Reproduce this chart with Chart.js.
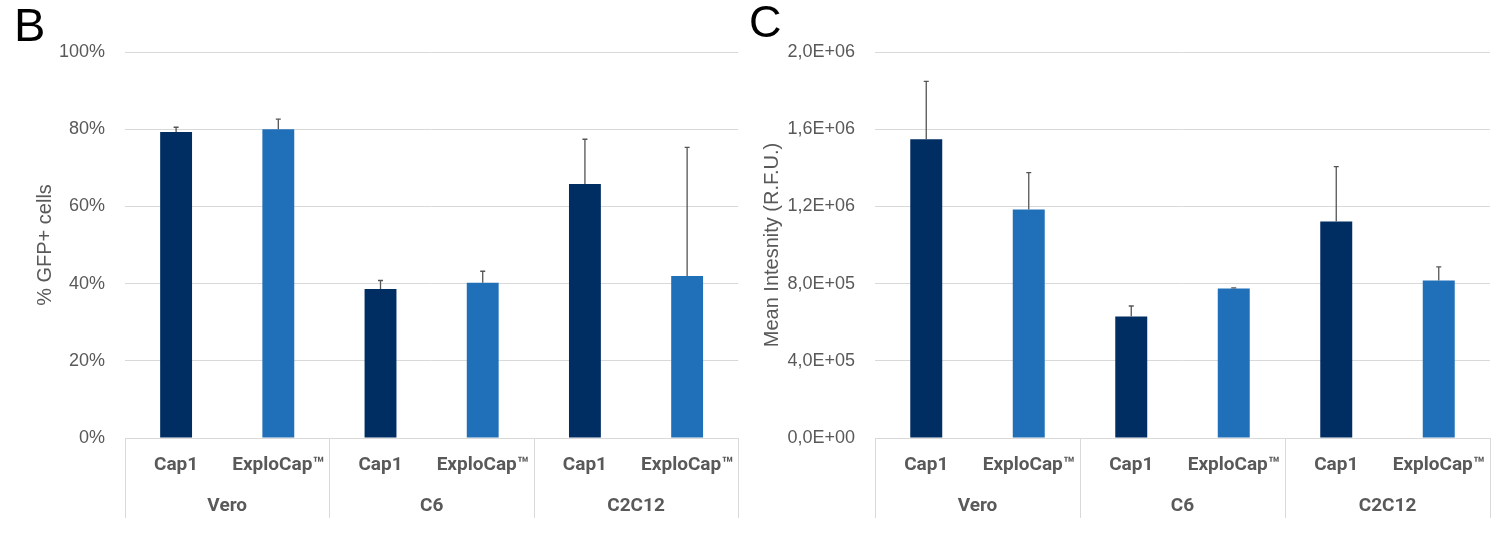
<!DOCTYPE html>
<html>
<head>
<meta charset="utf-8">
<script src="https://cdn.jsdelivr.net/npm/chart.js@4/dist/chart.umd.min.js"></script>
<style>
  html, body { margin: 0; padding: 0; background: #ffffff; }
  body { width: 1507px; height: 542px; position: relative; overflow: hidden; }
  .panel { position: absolute; top: 0; }
  .letter { position: absolute; font-family: "Liberation Sans", Arial, sans-serif; color: #000; line-height: 47px; font-size: 47px; }
</style>
</head>
<body>
<div class="panel" style="left:0px;width:750px;height:542px;"><canvas id="chartB" width="750" height="542"></canvas></div>
<div class="panel" style="left:750px;width:757px;height:542px;"><canvas id="chartC" width="757" height="542"></canvas></div>
<div class="letter" style="left:14px;top:1px;">B</div>
<div class="letter" style="left:749px;top:-2px;font-size:45px;">C</div>
<script>
// ---- data ----
const groups = ['Vero', 'C6', 'C2C12'];
const subLabels = ['Cap1', 'ExploCap™'];

const pctCap1 = [79.3, 38.6, 65.8];
const pctCap1Err = [1.2, 2.2, 11.6];
const pctExplo = [80.0, 40.2, 42.0];
const pctExploErr = [2.6, 3.0, 33.3];

const intCap1 = [1548000, 629000, 1122000];
const intCap1Err = [300000, 55000, 284000];
const intExplo = [1184000, 774000, 816000];
const intExploErr = [191000, 4000, 71000];

const pctTicks = ['0%', '20%', '40%', '60%', '80%', '100%'];
const intTicks = ['0,0E+00', '4,0E+05', '8,0E+05', '1,2E+06', '1,6E+06', '2,0E+06'];

// ---- styles ----
const NAVY = '#002E63';
const BLUE = '#2070B9';
const GRID = '#D9D9D9';
const TXT = '#595959';

function interleave(a, b) {
  const out = [];
  for (let i = 0; i < a.length; i++) { out.push(a[i], b[i]); }
  return out;
}
const xLabels = [];
groups.forEach(() => subLabels.forEach(s => xLabels.push(s)));
const barColors = [];
groups.forEach(() => { barColors.push(NAVY, BLUE); });

const errorBarPlugin = {
  id: 'errorBars',
  afterDatasetsDraw(chart) {
    const meta = chart.getDatasetMeta(0);
    const ds = chart.data.datasets[0];
    const y = chart.scales.y;
    const ctx = chart.ctx;
    ctx.save();
    ctx.strokeStyle = '#555555';
    ctx.lineWidth = 1.3;
    meta.data.forEach((bar, i) => {
      const v = ds.data[i];
      const e = ds.errors[i];
      const yTop = y.getPixelForValue(v + e);
      const yBase = y.getPixelForValue(v);
      ctx.beginPath();
      ctx.moveTo(bar.x, yBase);
      ctx.lineTo(bar.x, yTop);
      ctx.moveTo(bar.x - 2.5, yTop);
      ctx.lineTo(bar.x + 2.5, yTop);
      ctx.stroke();
    });
    ctx.restore();
  }
};

const separatorPlugin = {
  id: 'groupSeparators',
  afterDraw(chart) {
    const x = chart.scales.x;
    const x2 = chart.scales.x2;
    const area = chart.chartArea;
    const ctx = chart.ctx;
    const xs = [area.left];
    for (let g = 1; g < groups.length; g++) {
      const i = g * subLabels.length;
      xs.push((x.getPixelForValue(i - 1) + x.getPixelForValue(i)) / 2);
    }
    xs.push(area.right);
    ctx.save();
    ctx.strokeStyle = GRID;
    ctx.lineWidth = 1;
    xs.forEach(px => {
      const p = Math.round(px) + 0.5;
      ctx.beginPath();
      ctx.moveTo(p, area.bottom);
      ctx.lineTo(p, x2.bottom);
      ctx.stroke();
    });
    ctx.restore();
  }
};

function makeChart(id, values, errors, max, step, tickLabels, title, titlePad, rightPad) {
  return new Chart(document.getElementById(id), {
    type: 'bar',
    data: {
      labels: xLabels,
      datasets: [{
        data: values,
        errors: errors,
        backgroundColor: barColors,
        borderWidth: 0,
        categoryPercentage: 1.0,
        barPercentage: 0.312
      }]
    },
    options: {
      responsive: false,
      animation: false,
      devicePixelRatio: 1,
      layout: { padding: { top: 52, right: rightPad, bottom: 24, left: 0 } },
      plugins: { legend: { display: false }, tooltip: { enabled: false } },
      scales: {
        x: {
          type: 'category',
          position: 'bottom',
          weight: 0,
          grid: { display: false, drawTicks: false },
          border: { display: true, color: GRID, width: 1 },
          ticks: {
            color: TXT, autoSkip: false, maxRotation: 0, minRotation: 0, padding: 16,
            font: { family: 'Roboto', weight: 'bold', size: 19 }
          },
          afterFit(s) { s.height = 47; }
        },
        x2: {
          type: 'category',
          position: 'bottom',
          weight: 1,
          labels: groups,
          offset: true,
          grid: { display: false, drawTicks: false },
          border: { display: false },
          ticks: {
            color: TXT, autoSkip: false, maxRotation: 0, minRotation: 0, padding: 10,
            font: { family: 'Roboto', weight: 'bold', size: 19 }
          },
          afterFit(s) { s.height = 33; }
        },
        y: {
          min: 0, max: max,
          grid: { color: GRID, lineWidth: 1, drawTicks: false },
          border: { display: false },
          ticks: {
            stepSize: step, padding: 20, color: TXT,
            font: { family: 'Liberation Sans', size: 18 },
            callback: (v, i) => tickLabels[i]
          },
          title: {
            display: true, text: title, color: TXT,
            font: { family: 'Liberation Sans', size: 20 },
            padding: { top: titlePad, bottom: 0 }
          },
          afterFit(s) { s.width = 125; }
        }
      }
    },
    plugins: [errorBarPlugin, separatorPlugin]
  });
}

makeChart('chartB', interleave(pctCap1, pctExplo), interleave(pctCap1Err, pctExploErr),
  100, 20, pctTicks, '% GFP+ cells', 33, 10);
makeChart('chartC', interleave(intCap1, intExplo), interleave(intCap1Err, intExploErr),
  2000000, 400000, intTicks, 'Mean Intesnity (R.F.U.)', 10, 17);
</script>
</body>
</html>
